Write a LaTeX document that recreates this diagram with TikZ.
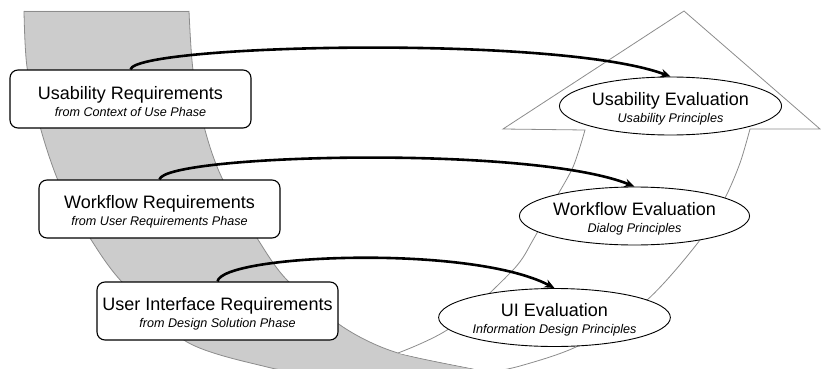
\documentclass[tikz,border=0pt]{standalone}
\usepackage{fontspec}
\setmainfont{Liberation Sans}
\usetikzlibrary{shapes.geometric,arrows.meta}
\definecolor{bandgray}{RGB}{204,204,204}
\definecolor{edgegray}{RGB}{140,140,140}
\newcommand\subtxt[1]{{\fontsize{12.6}{15}\selectfont\itshape #1}}
\newcommand\topstrut{\rule{0pt}{18pt}}
\begin{document}
\begin{tikzpicture}[x=1pt,y=-1pt,
  reqbox/.style={draw=black, line width=1.1pt, fill=white, rounded corners=8pt,
    minimum width=241pt, minimum height=58pt, inner sep=0pt, align=center,
    font=\fontsize{18}{17}\selectfont},
  evalell/.style={ellipse, draw=black, line width=0.9pt, fill=white,
    minimum width=213pt, minimum height=58pt, inner sep=0pt, align=center,
    font=\fontsize{18}{17}\selectfont},
  flow/.style={line width=2.6pt, -{Stealth[length=10pt,width=8.5pt]}},
  bandedge/.style={draw=edgegray, line width=0.8pt}]
\useasboundingbox (0,0) rectangle (821,369);
\clip (0,0) rectangle (821,369);
% gray descending band
\fill[bandgray] plot[smooth] coordinates {(24,11) (27,67) (41,130) (60,185) (90,238) (122,282) (187,342) (267,367) (320,376)}
  -- (490,380) -- plot[smooth] coordinates {(490,372) (398,353) (343,327) (287,280) (257,238) (222,178) (205,130) (193,70) (189,11)} -- cycle;
\draw[bandedge] plot[smooth] coordinates {(24,11) (27,67) (41,130) (60,185) (90,238) (122,282) (187,342) (267,367) (320,376)};
\draw[bandedge] (24,11) -- (189,11);
\draw[bandedge] plot[smooth] coordinates {(490,372) (398,353) (343,327) (287,280) (257,238) (222,178) (205,130) (193,70) (189,11)};
% white rising arrow
\fill[white] plot[smooth] coordinates {(398,353) (450,328) (513,270) (533,240) (553,203) (573,167) (585,130)}
  -- (503,129) -- (684,11) -- (820,129) -- (750,129)
  -- plot[smooth] coordinates {(750,129) (740,163) (725,198) (700,240) (647,300) (580,345) (520,366) (490,372)} -- cycle;
\draw[bandedge] plot[smooth] coordinates {(398,353) (450,328) (513,270) (533,240) (553,203) (573,167) (585,130)}
  -- (503,129) -- (684,11) -- (820,129) -- (750,129)
  -- plot[smooth] coordinates {(750,129) (740,163) (725,198) (700,240) (647,300) (580,345) (520,366) (480,374)};
% nodes
\node[reqbox] (r1) at (130.5,99) {\topstrut Usability Requirements\\\subtxt{from Context of Use Phase}};
\node[reqbox] (r2) at (159.5,209) {\topstrut Workflow Requirements\\\subtxt{from User Requirements Phase}};
\node[reqbox] (r3) at (217.5,311) {\topstrut User Interface Requirements\\\subtxt{from Design Solution Phase}};
\node[evalell] (e1) at (670.5,106) {\topstrut Usability Evaluation\\\subtxt{Usability Principles}};
\node[evalell] (e2) at (634.5,216) {\topstrut Workflow Evaluation\\\subtxt{Dialog Principles}};
\node[evalell] (e3) at (554.5,317.5) {\topstrut UI Evaluation\\\subtxt{Information Design Principles}};
% connectors
\draw[flow] (r1.north) .. controls +(5,-25) and +(-112,-42) .. (e1.north);
\draw[flow] (r2.north) .. controls +(5,-25) and +(-104.5,-42) .. (e2.north);
\draw[flow] (r3.north) .. controls +(4.5,-27) and +(-84.5,-44) .. (e3.north);
\end{tikzpicture}
\end{document}
